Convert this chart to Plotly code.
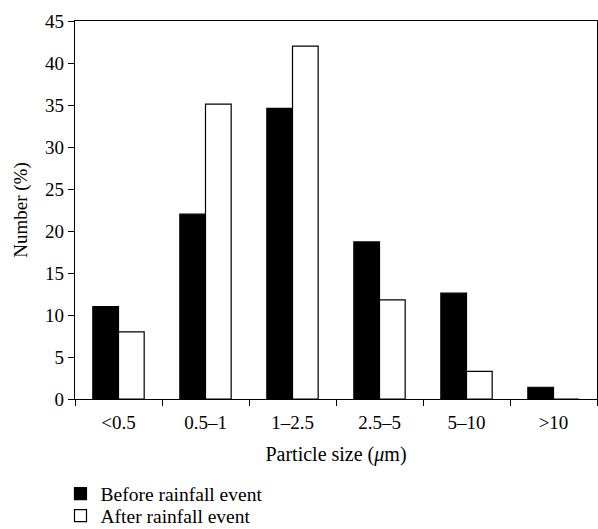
import plotly.graph_objects as go

categories = ["<0.5", "0.5–1", "1–2.5", "2.5–5", "5–10", ">10"]
before = [11.0, 22.0, 34.6, 18.7, 12.6, 1.4]
after = [8.0, 35.1, 42.0, 11.8, 3.3, 0.0]
yticks = [0, 5, 10, 15, 20, 25, 30, 35, 40, 45]

FONT = "Liberation Serif"
FS = 19

fig = go.Figure()
fig.add_trace(go.Bar(x=categories, y=before, name="Before rainfall event", legend="legend",
                     marker=dict(color="black", line=dict(color="black", width=1.2))))
fig.add_trace(go.Bar(x=categories, y=after, name="After rainfall event", legend="legend2",
                     marker=dict(color="white", line=dict(color="black", width=1.2))))

leg_common = dict(x=-0.0278, xanchor="left", yanchor="middle",
                  font=dict(family=FONT, size=19.5, color="black"), bgcolor="rgba(0,0,0,0)")
fig.update_layout(
    width=598, height=529,
    margin=dict(l=75, r=1, t=21, b=130, autoexpand=False),
    plot_bgcolor="white", paper_bgcolor="white",
    barmode="group", bargap=0.41, bargroupgap=0,
    font=dict(family=FONT, size=FS, color="black"),
    showlegend=True,
    legend=dict(y=-0.2513, **leg_common),
    legend2=dict(y=-0.3095, **leg_common),
)
fig.update_xaxes(
    type="category", showline=True, linecolor="black", linewidth=1.2, mirror=True,
    ticks="outside", tickson="boundaries", ticklen=6, tickcolor="black", tickwidth=1.2,
    showgrid=False, automargin=False, tickfont=dict(family=FONT, size=FS),
    ticklabelstandoff=6,
    title=dict(text="Particle size (<i>μ</i>m)", standoff=15, font=dict(family=FONT, size=20)),
)
fig.update_yaxes(
    range=[0, 45], tickvals=yticks, showline=True, linecolor="black", linewidth=1.2,
    mirror=True, ticks="outside", ticklen=6, tickcolor="black", tickwidth=1.2,
    showgrid=False, zeroline=False, automargin=False, tickfont=dict(family=FONT, size=FS),
    title=dict(text="Number (%)", standoff=12, font=dict(family=FONT, size=FS)),
)
fig.write_html("out.html", config={"displayModeBar": False},
               post_script="document.body.style.margin='0';")
